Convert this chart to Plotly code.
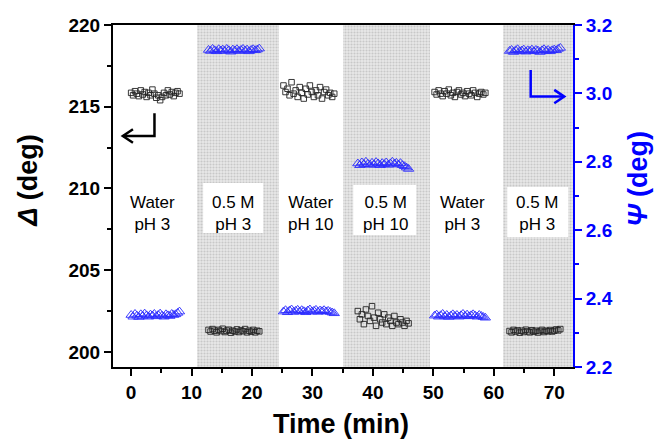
import plotly.graph_objects as go

# ---------------- data ----------------
t1 = [0.0, 0.32, 0.64, 0.96, 1.28, 1.60, 1.92, 2.24, 2.56, 2.88, 3.20, 3.52, 3.84, 4.16, 4.48, 4.80, 5.12, 5.44, 5.76, 6.08, 6.40, 6.72, 7.04, 7.36, 7.68, 8.00]
t2 = [12.80, 13.14, 13.47, 13.81, 14.14, 14.48, 14.82, 15.15, 15.49, 15.82, 16.16, 16.50, 16.83, 17.17, 17.50, 17.84, 18.18, 18.51, 18.85, 19.18, 19.52, 19.86, 20.19, 20.53, 20.86, 21.20]
t3 = [25.20, 25.54, 25.87, 26.21, 26.54, 26.88, 27.22, 27.55, 27.89, 28.22, 28.56, 28.90, 29.23, 29.57, 29.90, 30.24, 30.58, 30.91, 31.25, 31.58, 31.92, 32.26, 32.59, 32.93, 33.26, 33.60]
t4 = [37.50, 37.84, 38.17, 38.51, 38.84, 39.18, 39.52, 39.85, 40.19, 40.52, 40.86, 41.20, 41.53, 41.87, 42.20, 42.54, 42.88, 43.21, 43.55, 43.88, 44.22, 44.56, 44.89, 45.23, 45.56, 45.90]
t5 = [50.20, 50.54, 50.87, 51.21, 51.54, 51.88, 52.22, 52.55, 52.89, 53.22, 53.56, 53.90, 54.23, 54.57, 54.90, 55.24, 55.58, 55.91, 56.25, 56.58, 56.92, 57.26, 57.59, 57.93, 58.26, 58.60]
t6 = [62.60, 62.94, 63.27, 63.61, 63.94, 64.28, 64.62, 64.95, 65.29, 65.62, 65.96, 66.30, 66.63, 66.97, 67.30, 67.64, 67.98, 68.31, 68.65, 68.98, 69.32, 69.66, 69.99, 70.33, 70.66, 71.00]

delta1 = [215.85, 215.7, 215.95, 215.8, 215.65, 216.0, 215.75, 215.9, 215.6, 215.85, 215.7, 216.05, 215.8, 215.55, 215.7, 215.4, 215.6, 215.85, 215.7, 216.0, 215.75, 215.9, 215.65, 215.85, 215.95, 215.8]
delta2 = [201.35, 201.25, 201.4, 201.3, 201.2, 201.35, 201.28, 201.42, 201.22, 201.3, 201.36, 201.18, 201.3, 201.25, 201.38, 201.22, 201.32, 201.27, 201.4, 201.2, 201.3, 201.24, 201.35, 201.2, 201.3, 201.26]
delta3 = [216.3, 215.9, 216.1, 215.7, 216.5, 215.8, 216.0, 215.6, 216.2, 215.85, 215.5, 216.1, 215.75, 216.3, 215.9, 215.6, 216.0, 215.7, 216.2, 215.5, 215.9, 216.05, 215.7, 215.85, 215.6, 215.8]
delta4 = [202.5, 202.0, 202.3, 201.7, 202.6, 202.2, 201.9, 202.8, 202.1, 201.6, 202.4, 202.0, 201.8, 202.3, 201.7, 202.1, 201.9, 201.6, 202.2, 201.8, 201.7, 202.0, 201.8, 201.6, 201.9, 201.75]
delta5 = [215.9, 215.75, 216.0, 215.8, 215.65, 215.95, 215.8, 216.05, 215.7, 215.85, 215.6, 215.9, 216.0, 215.75, 215.85, 215.65, 215.95, 215.8, 215.7, 216.0, 215.85, 215.6, 215.8, 215.9, 215.75, 215.85]
delta6 = [201.28, 201.2, 201.35, 201.25, 201.32, 201.18, 201.3, 201.22, 201.36, 201.26, 201.2, 201.33, 201.24, 201.3, 201.19, 201.28, 201.35, 201.22, 201.3, 201.26, 201.34, 201.25, 201.3, 201.38, 201.32, 201.4]

psi1 = [2.352, 2.347, 2.355, 2.35, 2.346, 2.354, 2.349, 2.356, 2.351, 2.347, 2.353, 2.35, 2.355, 2.348, 2.352, 2.356, 2.35, 2.347, 2.354, 2.351, 2.349, 2.355, 2.352, 2.354, 2.358, 2.362]
psi2 = [3.127, 3.124, 3.13, 3.126, 3.123, 3.129, 3.125, 3.128, 3.124, 3.13, 3.126, 3.122, 3.128, 3.125, 3.129, 3.124, 3.127, 3.13, 3.125, 3.128, 3.123, 3.127, 3.129, 3.126, 3.128, 3.131]
psi3 = [2.362, 2.366, 2.36, 2.365, 2.368, 2.361, 2.364, 2.367, 2.362, 2.366, 2.363, 2.36, 2.365, 2.368, 2.362, 2.364, 2.367, 2.361, 2.365, 2.363, 2.366, 2.362, 2.364, 2.361, 2.359, 2.357]
psi4 = [2.795, 2.79, 2.798, 2.793, 2.8, 2.794, 2.791, 2.797, 2.792, 2.799, 2.795, 2.79, 2.796, 2.793, 2.798, 2.791, 2.795, 2.8, 2.794, 2.797, 2.792, 2.796, 2.79, 2.787, 2.783, 2.779]
psi5 = [2.35, 2.353, 2.347, 2.351, 2.355, 2.348, 2.352, 2.346, 2.35, 2.354, 2.349, 2.352, 2.347, 2.351, 2.355, 2.349, 2.353, 2.348, 2.351, 2.354, 2.35, 2.347, 2.352, 2.349, 2.346, 2.344]
psi6 = [3.124, 3.127, 3.121, 3.126, 3.129, 3.123, 3.125, 3.128, 3.122, 3.126, 3.124, 3.128, 3.123, 3.127, 3.125, 3.121, 3.126, 3.129, 3.124, 3.127, 3.123, 3.126, 3.128, 3.126, 3.13, 3.133]

shade_start = [10.87, 35.1, 61.6]
shade_end = [24.4, 49.5, 73.1]

segment_labels = ["Water<br>pH 3", "0.5 M<br>pH 3", "Water<br>pH 10", "0.5 M<br>pH 10", "Water<br>pH 3", "0.5 M<br>pH 3"]
label_x = [3.5, 16.9, 29.6, 42.0, 54.8, 67.3]

x_ticks = [0, 10, 20, 30, 40, 50, 60, 70]
y_ticks = [200, 205, 210, 215, 220]
y2_ticks = [2.2, 2.4, 2.6, 2.8, 3.0, 3.2]

XR = [-3.0, 73.1]
YR = [199.08, 220.0]
Y2R = [2.2, 3.2]

FONT = "Liberation Sans, Arial, sans-serif"
BLUE = "#0000ff"
TRI = "#2a2aff"

fig = go.Figure()

# shaded (patterned) regions
fig.add_trace(go.Bar(
    x=[(s + e) / 2 for s, e in zip(shade_start, shade_end)],
    y=[YR[1] - YR[0]] * len(shade_start),
    base=[YR[0]] * len(shade_start),
    width=[e - s for s, e in zip(shade_start, shade_end)],
    marker=dict(color="#e8e8e8", line=dict(width=0),
                pattern=dict(shape=".", fgcolor="#a8a8a8", bgcolor="#e8e8e8", size=3, solidity=0.4)),
    showlegend=False, hoverinfo="skip",
))

ts = [t1, t2, t3, t4, t5, t6]
deltas = [delta1, delta2, delta3, delta4, delta5, delta6]
psis = [psi1, psi2, psi3, psi4, psi5, psi6]

for t, d in zip(ts, deltas):
    fig.add_trace(go.Scatter(x=t, y=d, mode="markers", yaxis="y",
                             marker=dict(symbol="square-open", size=5.5, color="#222222", line=dict(width=0.9)),
                             showlegend=False))
for t, p in zip(ts, psis):
    fig.add_trace(go.Scatter(x=t, y=p, mode="markers", yaxis="y2",
                             marker=dict(symbol="triangle-up-open", size=9, color=TRI, line=dict(width=0.9)),
                             showlegend=False))

shapes = []
# white boxes behind labels
box_x0 = [11.91, 36.74, 62.22]
box_x1 = [21.84, 47.16, 72.31]
box_y0 = [207.28, 207.16, 207.03]
box_y1 = [210.34, 210.21, 210.09]
for a, b, c, d in zip(box_x0, box_x1, box_y0, box_y1):
    shapes.append(dict(type="rect", xref="x", yref="y", x0=a, x1=b, y0=c, y1=d,
                       fillcolor="white", line=dict(width=0), layer="above"))

# left (black) arrow
shapes.append(dict(type="path", xref="x", yref="y",
                   path="M 3.86,214.60 L 3.86,213.21 L -1.37,213.21",
                   line=dict(color="black", width=2.5)))
shapes.append(dict(type="path", xref="x", yref="y",
                   path="M 0.30,213.62 L -1.37,213.21 L 0.30,212.80",
                   line=dict(color="black", width=2.5)))
# right (blue) arrow
shapes.append(dict(type="path", xref="x", yref="y",
                   path="M 66.1,217.25 L 66.1,215.62 L 71.65,215.62",
                   line=dict(color=BLUE, width=2.5)))
shapes.append(dict(type="path", xref="x", yref="y",
                   path="M 70.0,216.03 L 71.65,215.62 L 70.0,215.21",
                   line=dict(color=BLUE, width=2.5)))

annotations = []
for txt, xx in zip(segment_labels, label_x):
    annotations.append(dict(x=xx, y=208.5, xref="x", yref="y", text=txt, showarrow=False,
                            xanchor="center", yanchor="middle",
                            font=dict(family=FONT, size=17, color="black"), align="center"))

annotations.append(dict(x=-0.185, y=0.547, xref="paper", yref="paper", text="<b><i>Δ</i> (deg)</b>",
                        textangle=-90, showarrow=False, xanchor="center", yanchor="middle",
                        font=dict(family=FONT, size=27, color="black")))
annotations.append(dict(x=1.141, y=0.55, xref="paper", yref="paper", text="<b><i>Ψ</i> (deg)</b>",
                        textangle=-90, showarrow=False, xanchor="center", yanchor="middle",
                        font=dict(family=FONT, size=27, color=BLUE)))
annotations.append(dict(x=0.496, y=-0.167, xref="paper", yref="paper", text="<b>Time (min)</b>",
                        showarrow=False, xanchor="center", yanchor="middle",
                        font=dict(family=FONT, size=27, color="black")))

fig.update_layout(
    width=654, height=440,
    margin=dict(l=113, r=81, t=25, b=73),
    paper_bgcolor="white", plot_bgcolor="white",
    showlegend=False,
    bargap=0,
    shapes=shapes,
    annotations=annotations,
    xaxis=dict(range=XR, tickvals=x_ticks, ticks="outside", ticklen=7, tickwidth=2, tickcolor="black",
               showline=True, linewidth=2, linecolor="black", mirror=True, showgrid=False, zeroline=False,
               tickfont=dict(family=FONT, size=19, color="black", weight="bold"),
               minor=dict(dtick=5, tick0=0, ticks="outside", ticklen=4, tickwidth=2, tickcolor="black", showgrid=False)),
    yaxis=dict(range=YR, tickvals=y_ticks, ticks="outside", ticklen=7, tickwidth=2, tickcolor="black",
               showline=True, linewidth=2, linecolor="black", showgrid=False, zeroline=False,
               tickfont=dict(family=FONT, size=19, color="black", weight="bold"),
               minor=dict(dtick=2.5, tick0=200, ticks="outside", ticklen=4, tickwidth=2, tickcolor="black", showgrid=False)),
    yaxis2=dict(range=Y2R, tickvals=y2_ticks, tickformat=".1f", overlaying="y", side="right",
                ticks="outside", ticklen=7, tickwidth=2, tickcolor=BLUE,
                showline=True, linewidth=2, linecolor=BLUE, showgrid=False, zeroline=False,
                tickfont=dict(family=FONT, size=19, color=BLUE, weight="bold"),
                minor=dict(dtick=0.1, tick0=2.2, ticks="outside", ticklen=4, tickwidth=2, tickcolor=BLUE, showgrid=False)),
)

fig.write_html("out.html")
